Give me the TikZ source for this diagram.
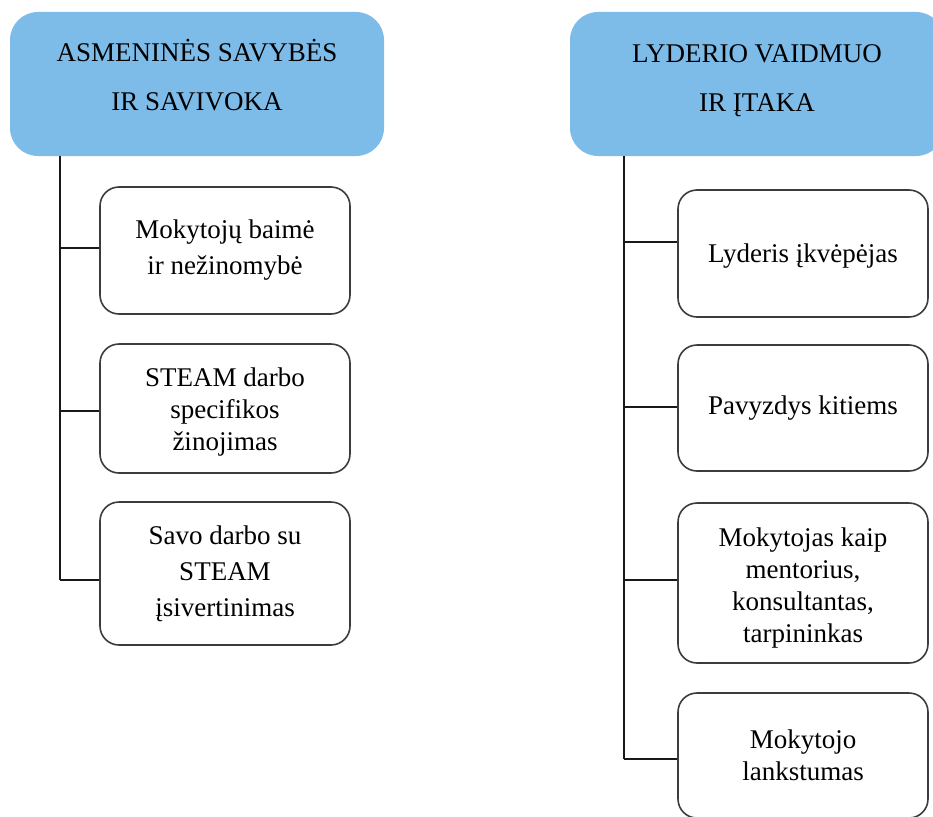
\documentclass[tikz,border=0pt]{standalone}
\usepackage{fontspec}
\setmainfont{Liberation Serif}
\definecolor{hdrblue}{RGB}{125,187,232}
\definecolor{boxline}{RGB}{60,60,60}
\definecolor{linkline}{RGB}{25,25,25}
\tikzset{
  hdrbox/.style={rectangle, rounded corners=28pt, fill=hdrblue, draw=none,
    minimum width=374pt, minimum height=144pt, inner sep=0pt, align=center,
    font=\fontsize{27}{49}\selectfont, text=black},
  itembox/.style={rectangle, rounded corners=19pt, draw=boxline, line width=1.6pt, fill=white,
    minimum width=250pt, inner sep=0pt, align=center,
    font=\fontsize{27}{32}\selectfont, text=black},
  link/.style={draw=linkline, line width=2pt}
}
\begin{document}
\begin{tikzpicture}[x=1pt,y=-1pt]
\useasboundingbox (0,0) rectangle (933,816);
\fill[white] (0,0) rectangle (933,816);

% headers
\node[hdrbox] (hdrL) at (197,84) {ASMENINĖS SAVYBĖS\\IR SAVIVOKA\rule[-18pt]{0pt}{18pt}};
\node[hdrbox] (hdrR) at (757,84) {LYDERIO VAIDMUO\\IR ĮTAKA\rule[-12pt]{0pt}{12pt}};

% left items
\node[itembox, minimum height=127pt] (L1) at (225,250.5) {Mokytojų baimė\\[4pt]ir nežinomybė};
\node[itembox, minimum height=129pt] (L2) at (225,408.5) {\rule{0pt}{26.5pt}STEAM darbo\\specifikos\\žinojimas};
\node[itembox, minimum height=143pt] (L3) at (225,573.5) {Savo darbo su\\[4pt]STEAM\\[4pt]įsivertinimas};

% right items
\node[itembox, minimum height=127pt] (R1) at (803,253.5) {\rule{0pt}{24.5pt}Lyderis įkvėpėjas};
\node[itembox, minimum height=126pt] (R2) at (803,408) {Pavyzdys kitiems};
\node[itembox, minimum height=160pt] (R3) at (803,583) {\rule{0pt}{28.5pt}Mokytojas kaip\\mentorius,\\konsultantas,\\tarpininkas};
\node[itembox, minimum height=125pt] (R4) at (803,755.5) {Mokytojo\\lankstumas};

% trunk attachment points
\coordinate (tL1) at (60,248);
\coordinate (tL2) at (60,411);
\coordinate (tL3) at (60,580);
\coordinate (tR1) at (624,242);
\coordinate (tR2) at (624,407);
\coordinate (tR3) at (624,580);
\coordinate (tR4) at (624,759);

% left connectors
\draw[link] (tL1 |- hdrL.south) -- (tL3);
\draw[link] (tL1) -- (tL1 -| L1.west);
\draw[link] (tL2) -- (tL2 -| L2.west);
\draw[link] (tL3) -- (tL3 -| L3.west);

% right connectors
\draw[link] (tR1 |- hdrR.south) -- (tR4);
\draw[link] (tR1) -- (tR1 -| R1.west);
\draw[link] (tR2) -- (tR2 -| R2.west);
\draw[link] (tR3) -- (tR3 -| R3.west);
\draw[link] (tR4) -- (tR4 -| R4.west);
\end{tikzpicture}
\end{document}
